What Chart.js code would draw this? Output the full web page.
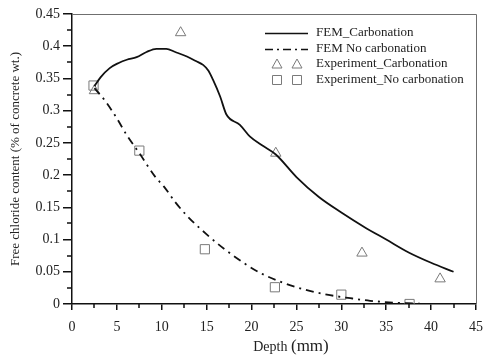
<!DOCTYPE html>
<html>
<head>
<meta charset="utf-8">
<script src="https://cdn.jsdelivr.net/npm/chart.js@4"></script>
<style>
  html, body { margin: 0; padding: 0; background: #fff; }
  #wrap { width: 485px; height: 356px; }
</style>
</head>
<body>
<div id="wrap"><canvas id="chart" width="485" height="356"></canvas></div>
<script>
// Datos
const femCarbDepth = [2.5, 3.2, 4.2, 5.2, 6.1, 7.2, 8.3, 9.4, 10.5, 11.5, 12.8, 13.8, 14.6, 15.2, 15.7, 16.5, 17.2, 18.7, 19.8, 21.3, 22.7, 25, 27.5, 30, 32.5, 35, 37.5, 40, 42.5];
const femCarbValue = [0.338, 0.352, 0.366, 0.374, 0.379, 0.383, 0.391, 0.396, 0.396, 0.391, 0.384, 0.377, 0.371, 0.362, 0.348, 0.322, 0.294, 0.278, 0.26, 0.245, 0.232, 0.197, 0.166, 0.142, 0.12, 0.1, 0.08, 0.064, 0.05];

const femNoCarbDepth = [2.5, 3.7, 5, 6.1, 7.5, 9.4, 10.2, 11.5, 12.8, 15, 17, 19.1, 21, 23.5, 26, 28.4, 31, 33.2, 36, 38, 39.9];
const femNoCarbValue = [0.335, 0.315, 0.288, 0.262, 0.234, 0.195, 0.183, 0.158, 0.137, 0.108, 0.085, 0.064, 0.048, 0.033, 0.022, 0.0145, 0.009, 0.005, 0.002, 0.001, 0];

const expCarbDepth = [2.5, 12.1, 22.7, 32.3, 41.0];
const expCarbValue = [0.331, 0.421, 0.234, 0.079, 0.039];

const expNoCarbDepth = [2.4, 7.5, 14.8, 22.6, 30.0, 37.6];
const expNoCarbValue = [0.339, 0.238, 0.085, 0.026, 0.0145, 0.0];

const legendLabels = ["FEM_Carbonation", "FEM No carbonation", "Experiment_Carbonation", "Experiment_No carbonation"];

const xTicks = [0, 5, 10, 15, 20, 25, 30, 35, 40, 45];
const yTicks = [0, 0.05, 0.1, 0.15, 0.2, 0.25, 0.3, 0.35, 0.4, 0.45];

const serif = "'Liberation Serif', 'Times New Roman', serif";
const markerColor = "#7a7a7a";

function toPoints(xs, ys) {
  return xs.map((x, i) => ({ x: x, y: ys[i] }));
}

// Marcas menores, caja y leyenda
const extrasPlugin = {
  id: "extras",
  afterDraw(chart) {
    const ctx = chart.ctx;
    const area = chart.chartArea;
    const xs = chart.scales.x;
    const ys = chart.scales.y;
    ctx.save();

    // caja superior y derecha
    ctx.strokeStyle = "#6f6f6f";
    ctx.lineWidth = 1;
    ctx.beginPath();
    ctx.moveTo(area.left, area.top + 0.5);
    ctx.lineTo(area.right + 0.5, area.top + 0.5);
    ctx.lineTo(area.right + 0.5, area.bottom);
    ctx.stroke();

    // marcas menores
    ctx.strokeStyle = "#111";
    ctx.lineWidth = 1.5;
    ctx.beginPath();
    for (let i = 0; i < xTicks.length - 1; i++) {
      const px = Math.round(xs.getPixelForValue((xTicks[i] + xTicks[i + 1]) / 2));
      ctx.moveTo(px, area.bottom);
      ctx.lineTo(px, area.bottom + 4);
    }
    for (let i = 0; i < yTicks.length - 1; i++) {
      const py = Math.round(ys.getPixelForValue((yTicks[i] + yTicks[i + 1]) / 2));
      ctx.moveTo(area.left, py);
      ctx.lineTo(area.left - 5, py);
    }
    ctx.stroke();

    // titulo del eje x con dos tamanos
    ctx.fillStyle = "#222";
    ctx.textBaseline = "alphabetic";
    ctx.textAlign = "left";
    ctx.font = "14px " + serif;
    const w1 = ctx.measureText("Depth ").width;
    ctx.font = "17px " + serif;
    const w2 = ctx.measureText("(mm)").width;
    let tx = 291 - (w1 + w2) / 2;
    ctx.font = "14px " + serif;
    ctx.fillText("Depth ", tx, 351);
    ctx.font = "17px " + serif;
    ctx.fillText("(mm)", tx + w1, 351);

    // leyenda
    const rows = [33, 49, 64, 80];
    const lx0 = 265, lx1 = 308, textX = 316;
    ctx.font = "13px " + serif;
    ctx.textBaseline = "middle";
    rows.forEach((ry, i) => {
      ctx.fillStyle = "#222";
      ctx.fillText(legendLabels[i], textX, ry);
      if (i < 2) {
        ctx.strokeStyle = "#111";
        ctx.lineWidth = 1.5;
        ctx.setLineDash(i === 0 ? [] : [8, 4, 2, 4]);
        ctx.beginPath();
        ctx.moveTo(lx0, ry + 0.5);
        ctx.lineTo(lx1, ry + 0.5);
        ctx.stroke();
        ctx.setLineDash([]);
      } else {
        ctx.strokeStyle = markerColor;
        ctx.lineWidth = 1;
        [277, 297].forEach((mx) => {
          ctx.beginPath();
          if (i === 2) {
            ctx.moveTo(mx, ry - 5);
            ctx.lineTo(mx + 5, ry + 4);
            ctx.lineTo(mx - 5, ry + 4);
            ctx.closePath();
          } else {
            ctx.rect(mx - 4.5, ry - 4.5, 9, 9);
          }
          ctx.stroke();
        });
      }
    });
    ctx.restore();
  },
};

const ctx1 = document.getElementById("chart").getContext("2d");
const chart = new Chart(ctx1, {
  type: "scatter",
  data: {
    datasets: [
      {
        label: legendLabels[0],
        data: toPoints(femCarbDepth, femCarbValue),
        showLine: true,
        borderColor: "#111",
        borderWidth: 1.8,
        pointRadius: 0,
        cubicInterpolationMode: "monotone",
      },
      {
        label: legendLabels[1],
        data: toPoints(femNoCarbDepth, femNoCarbValue),
        showLine: true,
        borderColor: "#111",
        borderWidth: 1.8,
        borderDash: [8, 5, 2, 5],
        pointRadius: 0,
        cubicInterpolationMode: "monotone",
      },
      {
        label: legendLabels[2],
        data: toPoints(expCarbDepth, expCarbValue),
        pointStyle: "triangle",
        pointRadius: 6,
        borderColor: markerColor,
        backgroundColor: "rgba(0,0,0,0)",
        borderWidth: 1,
      },
      {
        label: legendLabels[3],
        data: toPoints(expNoCarbDepth, expNoCarbValue),
        pointStyle: "rect",
        pointRadius: 6.5,
        borderColor: markerColor,
        backgroundColor: "rgba(0,0,0,0)",
        borderWidth: 1,
      },
    ],
  },
  options: {
    responsive: false,
    animation: false,
    layout: { padding: { top: 14, right: 9, left: 0, bottom: 0 } },
    plugins: {
      legend: { display: false },
      tooltip: { enabled: false },
    },
    scales: {
      x: {
        type: "linear",
        min: 0,
        max: 45,
        afterFit: (s) => {
          s.height = 52;
          s.paddingLeft = 0;
          s.paddingRight = 0;
        },
        afterBuildTicks: (s) => { s.ticks = xTicks.map((v) => ({ value: v })); },
        ticks: {
          font: { family: serif, size: 14 },
          color: "#222",
          padding: 9,
          maxRotation: 0,
        },
        grid: {
          drawOnChartArea: false,
          drawTicks: true,
          tickLength: 6,
          color: "#111",
          lineWidth: 1.5,
        },
        border: { color: "#111", width: 1.5 },
      },
      y: {
        min: 0,
        max: 0.45,
        afterFit: (s) => {
          s.width = 72;
          s.paddingTop = 0;
          s.paddingBottom = 0;
        },
        afterBuildTicks: (s) => { s.ticks = yTicks.map((v) => ({ value: v })); },
        ticks: {
          font: { family: serif, size: 14 },
          color: "#222",
          padding: 3,
          callback: (v) => String(Math.round(v * 100) / 100),
        },
        grid: {
          drawOnChartArea: false,
          drawTicks: true,
          tickLength: 9,
          color: "#111",
          lineWidth: 1.5,
        },
        border: { color: "#111", width: 1.5 },
        title: {
          display: true,
          text: "Free chloride content (% of concrete wt.)",
          font: { family: serif, size: 13 },
          color: "#222",
          padding: { top: 8, bottom: 0 },
        },
      },
    },
  },
  plugins: [extrasPlugin],
});
</script>
</body>
</html>
